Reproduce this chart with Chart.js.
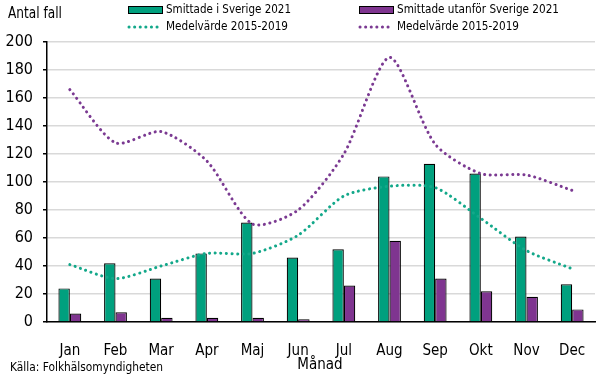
<!DOCTYPE html>
<html>
<head>
<meta charset="utf-8">
<script src="https://cdn.jsdelivr.net/npm/chart.js@4"></script>
<style>
  html, body { margin: 0; padding: 0; background: #fff; }
  #wrap { width: 606px; height: 379px; }
</style>
</head>
<body>
<div id="wrap"><canvas id="chart" width="606" height="379"></canvas></div>
<script>
const manader = ["Jan", "Feb", "Mar", "Apr", "Maj", "Jun", "Jul", "Aug", "Sep", "Okt", "Nov", "Dec"];
const smittadeSverige = [24, 42, 31, 49, 71, 46, 52, 104, 113, 106, 61, 27];
const smittadeUtanfor = [6, 7, 3, 3, 3, 2, 26, 58, 31, 22, 18, 9];
const medelSverige = [41, 31, 40, 49, 49, 62, 90, 97, 96, 74, 51, 38];
const medelUtanfor = [166, 128, 136, 115, 70, 80, 120, 189, 127, 106, 105, 94];
const yTicks = [0, 20, 40, 60, 80, 100, 120, 140, 160, 180, 200];

const GRON = "#00a07e";
const LILA = "#7f3590";
const FONT = '"DejaVu Sans Condensed", "DejaVu Sans", sans-serif';

// legend, axeltitlar och källa ritas för hand
const extraText = {
  id: "extraText",
  afterDraw(chart) {
    const ctx = chart.ctx;
    const ds = chart.data.datasets;
    ctx.save();
    ctx.fillStyle = "#000";
    ctx.textBaseline = "middle";
    ctx.font = "15px " + FONT;
    ctx.fillText("Antal fall", 8, 14, 54);

    // [x, y, bredd på texten]
    const plats = [[128, 10, 125], [359, 10, 162], [128, 27, 122], [359, 27, 122]];
    ctx.font = "13px " + FONT;
    ds.forEach((d, i) => {
      const [x, y, w] = plats[i];
      if (d.type === "line") {
        ctx.strokeStyle = d.borderColor;
        ctx.lineWidth = 3;
        ctx.lineCap = "round";
        ctx.setLineDash([0.1, 5.5]);
        ctx.beginPath();
        ctx.moveTo(x + 1, y);
        ctx.lineTo(x + 32, y);
        ctx.stroke();
        ctx.setLineDash([]);
      } else {
        ctx.fillStyle = d.backgroundColor;
        ctx.fillRect(x, y - 3.5, 34, 7);
        ctx.strokeStyle = "#000";
        ctx.lineWidth = 1;
        ctx.strokeRect(x + 0.5, y - 3.5, 34, 7);
      }
      ctx.fillStyle = "#000";
      ctx.fillText(d.label, x + 38, y, w);
    });

    ctx.font = "15px " + FONT;
    ctx.textAlign = "center";
    ctx.fillText("Månad", 320, 365);
    ctx.textAlign = "left";
    ctx.font = "12px " + FONT;
    ctx.fillText("Källa: Folkhälsomyndigheten", 10, 368, 153);
    ctx.restore();
  }
};

new Chart(document.getElementById("chart"), {
  data: {
    labels: manader,
    datasets: [
      {
        type: "bar",
        label: "Smittade i Sverige 2021",
        data: smittadeSverige,
        backgroundColor: GRON,
        borderColor: "#000",
        borderWidth: 1.2,
        barPercentage: 1,
        categoryPercentage: 0.5,
        order: 2
      },
      {
        type: "bar",
        label: "Smittade utanför Sverige 2021",
        data: smittadeUtanfor,
        backgroundColor: LILA,
        borderColor: "#000",
        borderWidth: 1.2,
        barPercentage: 1,
        categoryPercentage: 0.5,
        order: 2
      },
      {
        type: "line",
        label: "Medelvärde 2015-2019",
        data: medelSverige,
        borderColor: "#13a88a",
        borderWidth: 3,
        borderDash: [0.1, 5.5],
        borderCapStyle: "round",
        pointRadius: 0,
        tension: 0.25,
        fill: false,
        order: 1
      },
      {
        type: "line",
        label: "Medelvärde 2015-2019",
        data: medelUtanfor,
        borderColor: "#7b3a92",
        borderWidth: 3,
        borderDash: [0.1, 5.5],
        borderCapStyle: "round",
        pointRadius: 0,
        tension: 0.25,
        fill: false,
        order: 1
      }
    ]
  },
  options: {
    responsive: false,
    animation: false,
    layout: { padding: { top: 42, right: 11, left: 0, bottom: 0 } },
    plugins: {
      legend: { display: false },
      tooltip: { enabled: false }
    },
    scales: {
      x: {
        grid: { display: false },
        border: { display: true, color: "#000", width: 1.5 },
        ticks: { color: "#000", font: { family: FONT, size: 15 }, padding: 12, maxRotation: 0 },
        afterFit: s => { s.height = 57; }
      },
      y: {
        min: 0,
        max: 200,
        afterBuildTicks: s => { s.ticks = yTicks.map(v => ({ value: v })); },
        grid: { color: "#d9d9d9", lineWidth: 1.5, tickLength: 4, tickColor: "#000" },
        border: { display: true, color: "#000", width: 1.5 },
        ticks: { color: "#000", font: { family: FONT, size: 16 }, padding: 10 },
        afterFit: s => { s.width = 47; }
      }
    }
  },
  plugins: [extraText]
});
</script>
</body>
</html>
